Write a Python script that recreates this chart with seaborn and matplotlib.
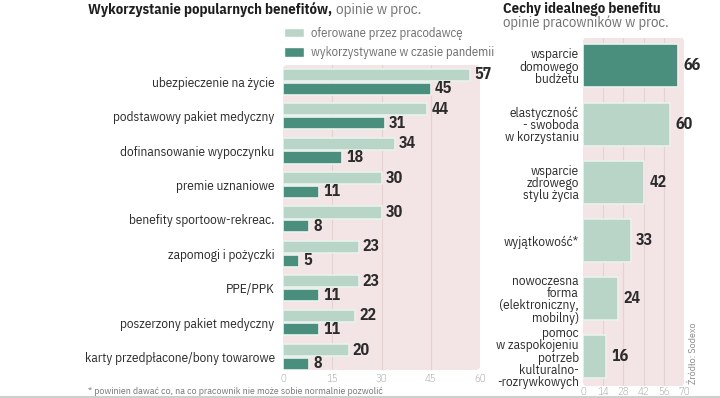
import matplotlib
matplotlib.use("Agg")
import matplotlib.pyplot as plt
from matplotlib.patches import FancyBboxPatch
from matplotlib.lines import Line2D
import seaborn as sns
import pandas as pd

# ---- data ----
left_categories = ["ubezpieczenie na życie", "podstawowy pakiet medyczny",
                   "dofinansowanie wypoczynku", "premie uznaniowe",
                   "benefity sportoow-rekreac.", "zapomogi i pożyczki",
                   "PPE/PPK", "poszerzony pakiet medyczny",
                   "karty przedpłacone/bony towarowe"]
offered = [57, 44, 34, 30, 30, 23, 23, 22, 20]
used = [45, 31, 18, 11, 8, 5, 11, 11, 8]
series_names = ["oferowane przez pracodawcę", "wykorzystywane w czasie pandemii"]
left_ticks = [0, 15, 30, 45, 60]

right_categories = ["wsparcie\ndomowego\nbudżetu",
                    "elastyczność\n- swoboda\nw korzystaniu",
                    "wsparcie\nzdrowego\nstylu życia",
                    "wyjątkowość*",
                    "nowoczesna\nforma\n(elektroniczny,\nmobilny)",
                    "pomoc\nw zaspokojeniu\npotrzeb\nkulturalno-\n-rozrywkowych"]
right_values = [66, 60, 42, 33, 24, 16]
right_ticks = [0, 14, 28, 42, 56, 70]

# ---- style ----
sns.set_theme(style="white")
FONT = ["IBM Plex Sans Condensed", "DejaVu Sans"]
plt.rcParams["font.family"] = FONT

LIGHT = "#b3dac9"
DARK = "#3e9a82"
BG = "#f3e5e5"
GRID = "#e6d2d2"
TXT = "#2b2b2b"
GRAY = "#707070"

W, H = 720, 398
fig = plt.figure(figsize=(W / 100, H / 100), dpi=100)
fig.patch.set_facecolor("white")


def fx(px):
    return px / W


def fy(py):
    return 1 - py / H


def rounded_bg(ax):
    ax.patch.set_visible(False)
    bg = FancyBboxPatch((0, 0), 1, 1, boxstyle="round,pad=0,rounding_size=0.025",
                        transform=ax.transAxes, facecolor=BG, edgecolor="none",
                        zorder=-5, clip_on=False, mutation_aspect=0.5)
    ax.add_patch(bg)


# ---- left chart ----
axL = fig.add_axes([fx(283), fy(370), fx(480) - fx(283), fy(65) - fy(370)])
rounded_bg(axL)
dfL = pd.DataFrame({
    "kategoria": left_categories * 2,
    "wartosc": offered + used,
    "seria": [series_names[0]] * len(offered) + [series_names[1]] * len(used),
})
sns.barplot(data=dfL, x="wartosc", y="kategoria", hue="seria", ax=axL,
            palette={series_names[0]: LIGHT, series_names[1]: DARK},
            hue_order=series_names, order=left_categories,
            width=0.8, gap=0.12, orient="h", zorder=3)
for cont in axL.containers:
    for bar in cont:
        bar.set_edgecolor("#e9f3ee")
        bar.set_linewidth(1.2)
        bar.set_joinstyle("round")
    axL.bar_label(cont, padding=3, fontsize=11.5, fontweight="bold", color=TXT,
                  family=FONT)
axL.set_xlim(0, 60)
axL.set_ylim(8.38, -0.49)
axL.set_xticks(left_ticks)
axL.set_xticklabels([str(t) for t in left_ticks])
for t in left_ticks[1:-1]:
    axL.axvline(t, color=GRID, lw=0.8, zorder=1)
axL.set_xlabel("")
axL.set_ylabel("")
for s in axL.spines.values():
    s.set_visible(False)
axL.tick_params(axis="x", length=0, pad=3, labelsize=7.8, labelcolor="#8a8a8a")
axL.tick_params(axis="y", length=0, pad=6, labelsize=9.5, labelcolor=TXT)
for lab in axL.get_xticklabels():
    lab.set_fontweight("light")
leg = axL.legend(loc="upper left", bbox_to_anchor=(fx(284), fy(27)),
                 bbox_transform=fig.transFigure, frameon=False, fontsize=9.2,
                 handlelength=1.55, handleheight=0.8, handletextpad=0.55,
                 labelspacing=0.5, borderpad=0, borderaxespad=0)
for txt in leg.get_texts():
    txt.set_color(GRAY)

# ---- right chart ----
axR = fig.add_axes([fx(583), fy(386), fx(684) - fx(583), fy(38) - fy(386)])
rounded_bg(axR)
sns.barplot(x=right_values, y=right_categories, hue=right_categories,
            palette=[DARK] + [LIGHT] * (len(right_values) - 1), legend=False,
            ax=axR, orient="h", width=0.74, zorder=3)
for cont in axR.containers:
    for bar in cont:
        bar.set_edgecolor("#e9f3ee")
        bar.set_linewidth(1.2)
        bar.set_joinstyle("round")
    axR.bar_label(cont, padding=4, fontsize=11.5, fontweight="bold", color=TXT,
                  family=FONT)
axR.set_xlim(0, 70)
axR.set_ylim(5.5, -0.48)
axR.set_xticks(right_ticks)
axR.set_xticklabels([str(t) for t in right_ticks])
for t in right_ticks[1:-1]:
    axR.axvline(t, color=GRID, lw=0.8, zorder=1)
axR.set_xlabel("")
axR.set_ylabel("")
for s in axR.spines.values():
    s.set_visible(False)
axR.tick_params(axis="x", length=0, pad=1, labelsize=7.8, labelcolor="#8a8a8a")
axR.tick_params(axis="y", length=0, pad=3, labelsize=9.5, labelcolor=TXT)
for lab in axR.get_xticklabels():
    lab.set_fontweight("light")
for lab in axR.get_yticklabels():
    lab.set_linespacing(0.92)
    lab.set_multialignment("right")

# ---- titles and notes ----
t1 = fig.text(fx(88), fy(14), "Wykorzystanie popularnych benefitów,", fontsize=10.5,
              fontweight="bold", color="#1e1e1e", va="baseline", ha="left")
fig.canvas.draw()
bb = t1.get_window_extent()
fig.text((bb.x1 + 4) / W, fy(14), "opinie w proc.", fontsize=10.8,
         color=GRAY, va="baseline", ha="left")
fig.text(fx(503), fy(13), "Cechy idealnego benefitu", fontsize=10.5,
         fontweight="bold", color="#1e1e1e", va="baseline", ha="left")
fig.text(fx(503), fy(27), "opinie pracowników w proc.", fontsize=10.5,
         color=GRAY, va="baseline", ha="left")
fig.text(fx(88), fy(391), "* powinien dawać co, na co pracownik nie może sobie normalnie pozwolić",
         fontsize=7.1, color="#7a7a7a", va="center", ha="left")
fig.text(fx(693), fy(353), "Źródło: Sodexo", fontsize=7.2,
         color="#8a8a8a", rotation=90, va="center", ha="center")
fig.add_artist(Line2D([0, 1], [fy(397), fy(397)], transform=fig.transFigure,
                      color="#cfcfcf", lw=1.5))

fig.savefig("out.png", dpi=100, facecolor="white")
